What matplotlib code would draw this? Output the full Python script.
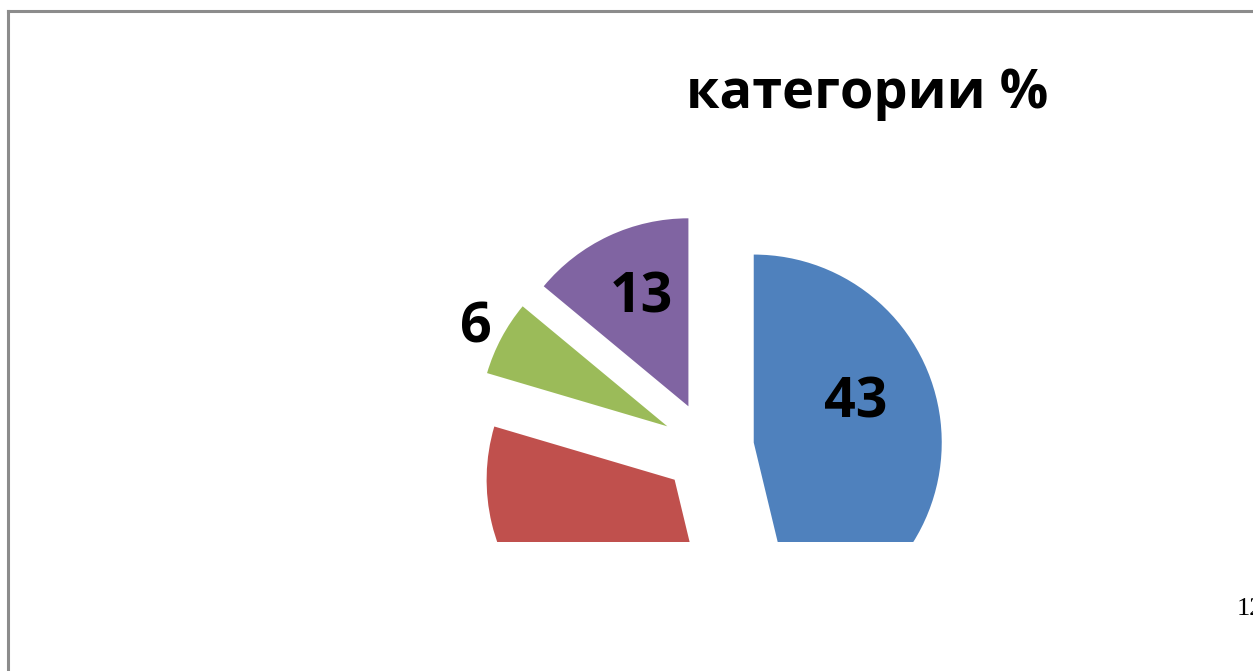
import numpy as np
import matplotlib.pyplot as plt
from matplotlib.lines import Line2D

# данные диаграммы
values = [43, 31, 6, 13]
labels = ['43', '31', '6', '13']
colors = ['#4F81BD', '#C0504D', '#9BBB59', '#8064A2']
title = 'категории %'
page_number = '12'

# положение подписей (в радиусах от центра круга, базовая линия)
label_pos = [(0.787, 0.160), (-0.60, -0.80), (-1.234, 0.559), (-0.356, 0.723)]

W, H = 1253, 671
fig = plt.figure(figsize=(W / 100, H / 100), dpi=100)

# область построения: обрезает круг снизу на y=542 px
R = 188.0
cx, cy = 708.0, 448.0
bottom = 542.0
ax = fig.add_axes([0, (H - bottom) / H, 1, bottom / H])
ax.axis('off')

wedges, _ = ax.pie(values, colors=colors, startangle=90, counterclock=False,
                   explode=[0.245] * len(values), radius=1.0, center=(0, 0),
                   wedgeprops={'linewidth': 0})
for w in wedges:
    w.set_clip_on(True)  # pie() выключает обрезку, Excel обрезает по области
ax.set_xlim(-cx / R, (W - cx) / R)
ax.set_ylim(-(bottom - cy) / R, cy / R)
ax.set_aspect('equal')

for lab, (lx, ly) in zip(labels, label_pos):
    ax.text(lx, ly, lab, ha='center', va='baseline', fontsize=40,
            fontweight='bold', family='Open Sans', color='black', clip_on=True)

fig.text(867 / W, 1 - 108 / H, title, ha='center', va='baseline',
         fontsize=39, fontweight='bold', family='Open Sans')

# рамка (левый и верхний край)
fig.add_artist(Line2D([8 / W, 8 / W], [0, 1 - 11 / H], color='#8c8c8c', lw=2.2,
                      transform=fig.transFigure))
fig.add_artist(Line2D([8 / W, 1], [1 - 11 / H, 1 - 11 / H], color='#8c8c8c', lw=2.2,
                      transform=fig.transFigure))

# номер страницы, как в оригинале, уходит за правый край
fig.text(1237 / W, 1 - 615 / H, page_number, ha='left', va='baseline',
         fontsize=19, family='Liberation Serif')

fig.savefig('out.png', dpi=100)
